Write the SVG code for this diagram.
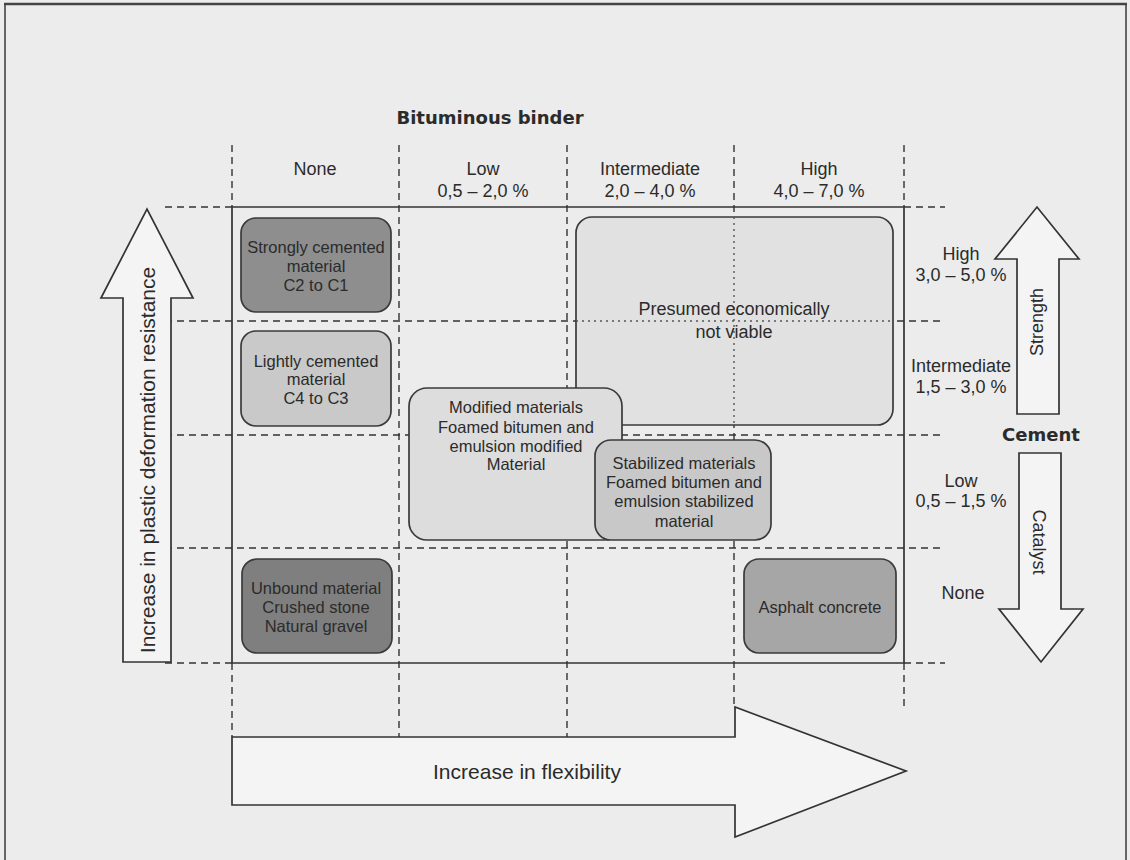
<svg xmlns="http://www.w3.org/2000/svg" width="1130" height="860" viewBox="0 0 1130 860">
<style>
.dash{stroke:#333;stroke-width:1.4;stroke-dasharray:7 5;fill:none}
.dot{stroke:#555;stroke-width:1.4;stroke-dasharray:2 4;fill:none}
.solid{stroke:#333;stroke-width:1.7;fill:none}
.box{stroke:#3a3a3a;stroke-width:1.7}
.arrow{fill:#f4f4f4;stroke:#333;stroke-width:1.7;stroke-linejoin:miter}
.t{font-family:"Liberation Sans",Arial,sans-serif;fill:#2b2b2b;text-anchor:middle}
.lab{font-size:18px}
.nt{font-size:16.5px}
.b{font-family:"DejaVu Sans",Verdana,sans-serif;font-weight:bold;fill:#2b2b2b;text-anchor:middle;font-size:18px}
</style>
<rect x="0" y="0" width="1130" height="860" fill="#ececec"/>
<g id="frame" fill="none" stroke="#444">
<line x1="4" y1="4" x2="1127" y2="4" stroke-width="2.5"/>
<line x1="5" y1="4" x2="5" y2="860" stroke-width="1.6"/>
<line x1="1126" y1="4" x2="1126" y2="860" stroke-width="1.6"/>
</g>
<g id="connectors">
<path class="dash" d="M232 145V207M232 663V737M399 145V737M567 145V737M734 145V707M904 145V207M904 663V710"/>
<path class="dash" d="M165 207H232M904 207H945M165 321H945M165 435H945M165 548H945M165 663H232M904 663H945"/>
<path class="solid" d="M232 207H904V663H232Z"/>
</g>
<g id="title"><text class="b" x="490" y="124">Bituminous binder</text></g>
<g id="col-headers" class="t lab">
<text x="315" y="175">None</text>
<text x="483" y="175">Low</text><text x="483" y="197">0,5 – 2,0 %</text>
<text x="650" y="175">Intermediate</text><text x="650" y="197">2,0 – 4,0 %</text>
<text x="819" y="175">High</text><text x="819" y="197">4,0 – 7,0 %</text>
</g>
<g id="row-headers" class="t lab">
<text x="961" y="260">High</text><text x="961" y="281">3,0 – 5,0 %</text>
<text x="961" y="372">Intermediate</text><text x="961" y="393">1,5 – 3,0 %</text>
<text x="961" y="487">Low</text><text x="961" y="507">0,5 – 1,5 %</text>
<text x="963" y="599">None</text>
</g>
<g id="presumed">
<rect class="box" x="576" y="217" width="317" height="208" rx="16" fill="#e1e1e1"/>
<path class="dot" d="M734 217V425M576 321H893"/>
<text class="t" font-size="18" x="734" y="315">Presumed economically</text>
<text class="t" font-size="18" x="734" y="338">not viable</text>
</g>
<g id="strongly-cemented">
<rect class="box" x="241" y="218" width="150" height="94" rx="15" fill="#8e8e8e"/>
<text class="t nt" x="316" y="253">Strongly cemented</text>
<text class="t nt" x="316" y="272">material</text>
<text class="t nt" x="316" y="291">C2 to C1</text>
</g>
<g id="lightly-cemented">
<rect class="box" x="241" y="331" width="150" height="95" rx="15" fill="#c9c9c9"/>
<text class="t nt" x="316" y="367">Lightly cemented</text>
<text class="t nt" x="316" y="385">material</text>
<text class="t nt" x="316" y="404">C4 to C3</text>
</g>
<g id="modified">
<rect class="box" x="409" y="388" width="213" height="152" rx="18" fill="#dddddd"/>
<text class="t nt" x="516" y="413">Modified materials</text>
<text class="t nt" x="516" y="433">Foamed bitumen and</text>
<text class="t nt" x="516" y="452">emulsion modified</text>
<text class="t nt" x="516" y="470">Material</text>
</g>
<g id="stabilized">
<rect class="box" x="595" y="440" width="176" height="100" rx="16" fill="#c8c8c8"/>
<text class="t nt" x="684" y="469">Stabilized materials</text>
<text class="t nt" x="684" y="488">Foamed bitumen and</text>
<text class="t nt" x="684" y="507">emulsion stabilized</text>
<text class="t nt" x="684" y="527">material</text>
</g>
<g id="unbound">
<rect class="box" x="242" y="559" width="150" height="94" rx="15" fill="#7f7f7f"/>
<text class="t nt" x="316" y="594" fill="#1e1e1e">Unbound material</text>
<text class="t nt" x="316" y="613" fill="#1e1e1e">Crushed stone</text>
<text class="t nt" x="316" y="632" fill="#1e1e1e">Natural gravel</text>
</g>
<g id="asphalt">
<rect class="box" x="744" y="559" width="152" height="94" rx="15" fill="#a6a6a6"/>
<text class="t nt" x="820" y="613">Asphalt concrete</text>
</g>
<g id="arrow-plastic">
<polygon class="arrow" points="123,662 171,662 171,298 193,298 147,209 101,298 123,298"/>
<text class="t" font-size="21" transform="translate(155,460) rotate(-90)">Increase in plastic deformation resistance</text>
</g>
<g id="arrow-flexibility">
<polygon class="arrow" points="232,737 735,737 735,707 906,771 735,837 735,805 232,805"/>
<text class="t" font-size="21" x="527" y="779">Increase in flexibility</text>
</g>
<g id="arrow-strength">
<polygon class="arrow" points="1017,414 1059,414 1059,259 1079,259 1037,207 995,259 1017,259"/>
<text class="t" font-size="18" transform="translate(1043,322) rotate(-90)">Strength</text>
</g>
<g id="cement"><text class="b" x="1041" y="441">Cement</text></g>
<g id="arrow-catalyst">
<polygon class="arrow" points="1019,453 1061,453 1061,609 1083,609 1041,662 999,609 1019,609"/>
<text class="t" font-size="18" transform="translate(1033,542) rotate(90)">Catalyst</text>
</g>
</svg>
